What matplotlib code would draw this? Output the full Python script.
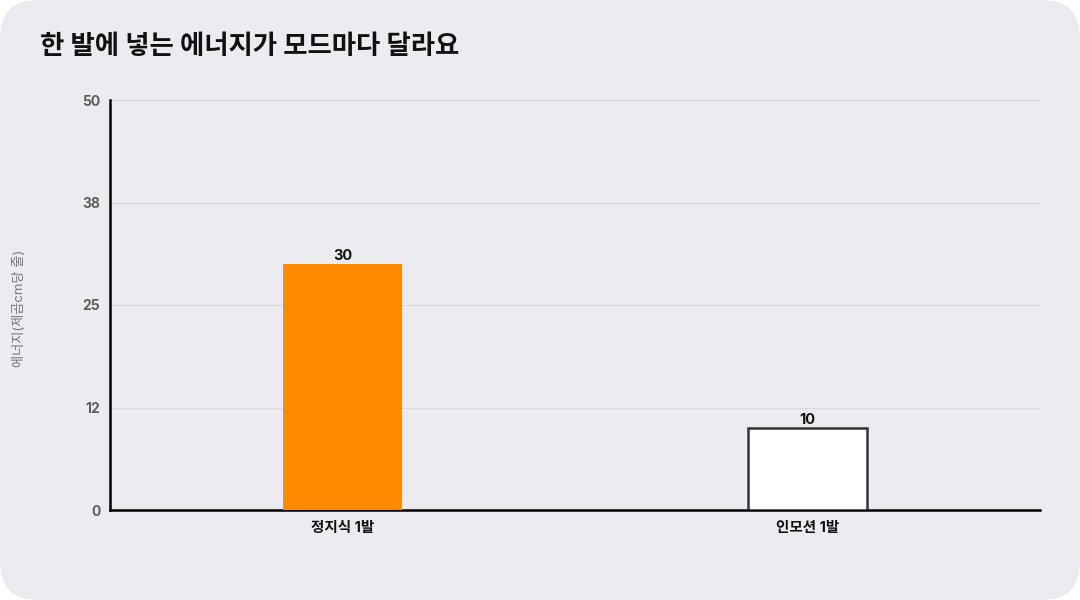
import matplotlib
matplotlib.use("Agg")
import matplotlib.pyplot as plt
from matplotlib.patches import FancyBboxPatch

plt.rcParams['font.family'] = ['Inter', 'Noto Sans CJK KR', 'DejaVu Sans']

# data
categories = ["정지식 1발", "인모션 1발"]
values = [30, 10]
bar_colors = ["#FF8A00", "#FFFFFF"]
edge_colors = ["#FF8A00", "#333333"]
y_ticks = [0, 12.5, 25, 37.5, 50]
title = "한 발에 넣는 에너지가 모드마다 달라요"
y_label = "에너지(제곱cm당 줄)"

bg = "#ECEBF0"

fig = plt.figure(figsize=(10.8, 6), dpi=100)
fig.patch.set_facecolor("white")
card = FancyBboxPatch((0, 0), 1, 1, boxstyle="round,pad=0,rounding_size=0.035",
                      transform=fig.transFigure, facecolor=bg, edgecolor="none",
                      mutation_aspect=1.8, zorder=-10)
fig.patches.append(card)

ax = fig.add_axes([110 / 1080, 90 / 600, 930 / 1080, 410 / 600])
ax.set_facecolor(bg)

x = list(range(len(categories)))
bars = ax.bar(x, values, width=0.258, color=bar_colors, edgecolor=edge_colors,
              linewidth=[0, 1.8], zorder=3)
for b, v in zip(bars, values):
    ax.text(b.get_x() + b.get_width() / 2, v + 0.1, str(v), ha="center", va="bottom",
            fontsize=10.5, fontweight="bold", color="#111111", zorder=4)

ax.set_xlim(-0.5, 1.5)
ax.set_ylim(0, 50)
ax.set_yticks(y_ticks)
ax.set_yticklabels([str(round(t)) for t in y_ticks])
ax.set_xticks(x)
ax.set_xticklabels(categories)
ax.grid(axis="y", color="#D9D8DE", linewidth=0.8, zorder=0)
ax.tick_params(axis="y", length=0, pad=7, labelsize=10, labelcolor="#5E5E5E")
ax.tick_params(axis="x", length=0, pad=8, labelsize=10.5, labelcolor="#111111")
for lab in ax.get_yticklabels() + ax.get_xticklabels():
    lab.set_fontweight("bold")

for s in ["top", "right"]:
    ax.spines[s].set_visible(False)
for s in ["left", "bottom"]:
    ax.spines[s].set_color("#000000")
    ax.spines[s].set_linewidth(1.8)

fig.text(20 / 1080, 0.5 - 8 / 600, y_label, rotation=90, ha="center", va="center",
         fontsize=9.5, color="#777777")
fig.text(40 / 1080, 1 - 47 / 600, title, ha="left", va="center",
         fontsize=19, fontweight="bold", color="#111111")

fig.savefig("out.png", dpi=100, facecolor="white")
